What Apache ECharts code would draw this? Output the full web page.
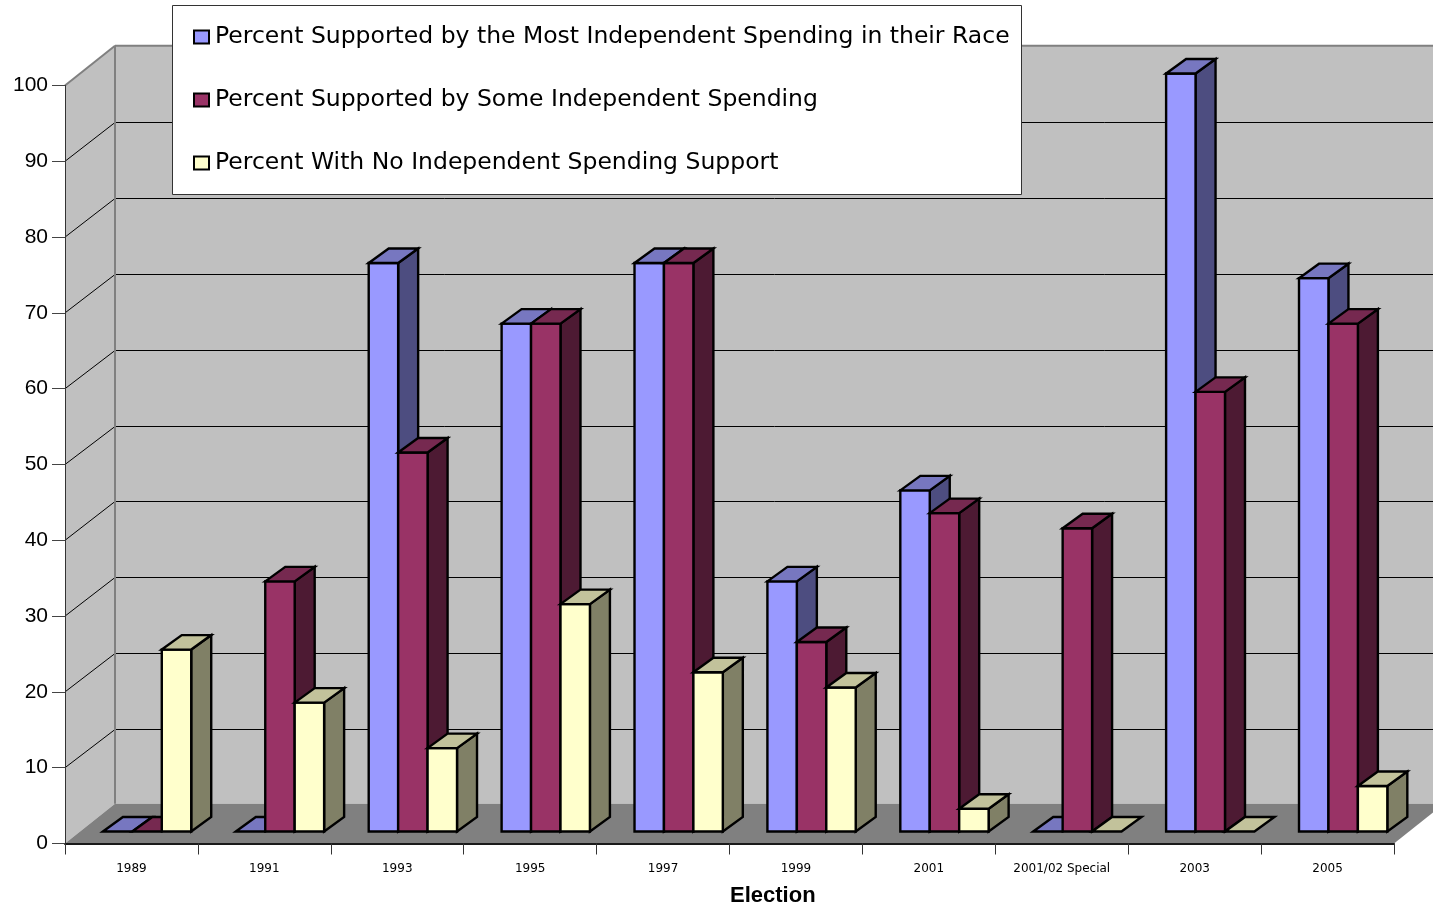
<!DOCTYPE html>
<html><head><meta charset="utf-8">
<style>html,body{margin:0;padding:0;background:#fff}#c{width:1433px;height:906px}</style>
<script src="https://cdn.jsdelivr.net/npm/echarts@6/dist/echarts.min.js"></script>
</head><body><div id="c"></div>
<script>
const categories = ['1989','1991','1993','1995','1997','1999','2001','2001/02 Special','2003','2005'];
const mostSpending = [0,0,75,67,75,33,45,0,100,73];
const someSpending = [0,33,50,67,75,25,42,40,58,67];
const noSpending = [24,17,11,30,21,19,3,0,0,6];
const yTicks = [0,10,20,30,40,50,60,70,80,90,100];
const seriesNames = ['Percent Supported by the Most Independent Spending in their Race','Percent Supported by Some Independent Spending','Percent With No Independent Spending Support'];
const palette = [
  {front:'#9999FF',side:'#4D4D80',top:'#7777C0'},
  {front:'#993366',side:'#4D1A33',top:'#762950'},
  {front:'#FFFFCC',side:'#808066',top:'#C2C29B'}
];
const WALL_DX = 50, WALL_DY = -39.8, GRID_DY = -38.5, BAR_DX = 20, BAR_DY = -14.5, BASE_DY = -12;
const FONT = '"Liberation Sans", Arial, sans-serif';
const WIDE_FONT = '"DejaVu Sans", sans-serif';

function poly(points, fill, stroke, lw){
  return {type:'polygon',shape:{points},style:{fill,stroke:stroke||'none',lineWidth:lw||0,lineJoin:'miter'}};
}
function line(a,b,stroke,lw){
  return {type:'line',shape:{x1:a[0],y1:a[1],x2:b[0],y2:b[1]},style:{stroke,lineWidth:lw}};
}
function renderWalls(params, api){
  const lastIdx = categories.length-1;
  const band = api.size([1,0])[0];
  const l = api.coord([0,0])[0]-band/2;
  const r = api.coord([lastIdx,0])[0]+band/2;
  const y0 = api.coord([0,0])[1];
  const yT = api.coord([0,100])[1];
  const ch = [
    poly([[l,yT],[l+WALL_DX,yT+WALL_DY],[l+WALL_DX,y0+WALL_DY],[l,y0]],'#C0C0C0'),
    poly([[l+WALL_DX,yT+WALL_DY],[r+WALL_DX,yT+WALL_DY],[r+WALL_DX,y0+WALL_DY],[l+WALL_DX,y0+WALL_DY]],'#C0C0C0'),
    poly([[l,y0],[l+WALL_DX,y0+WALL_DY],[r+WALL_DX,y0+WALL_DY],[r,y0]],'#808080')
  ];
  yTicks.forEach(function(t){
    const y = api.coord([0,t])[1];
    if(t>0 && t<100){
      const gy = Math.floor(y+GRID_DY)+0.5;
      ch.push(line([l,y],[l+WALL_DX,gy],'#000',1));
      ch.push(line([l+WALL_DX,gy],[r+WALL_DX,gy],'#000',1));
    }
  });
  ch.push(line([l,yT],[l+WALL_DX,yT+WALL_DY],'#808080',2));
  ch.push(line([l+WALL_DX,yT+WALL_DY],[r+WALL_DX,yT+WALL_DY],'#808080',2));
  ch.push(line([l+WALL_DX,yT+WALL_DY],[l+WALL_DX,y0+WALL_DY],'#808080',2));
  return {type:'group',children:ch};
}
function barRenderer(slot, pal){
  return function(params, api){
    const idx = api.value(0), val = api.value(1);
    const band = api.size([1,0])[0];
    const w = band*0.2215;
    const cx = api.coord([idx,0])[0] + band*0.1175;
    const x0 = cx - 1.5*w + slot*w, x1 = x0 + w;
    const yb = api.coord([idx,0])[1] + BASE_DY;
    const yt = api.coord([idx,val])[1] + BASE_DY;
    const s = '#000', lw = 2.4;
    const ch = [];
    if(val>0){
      ch.push(poly([[x1,yb],[x1+BAR_DX,yb+BAR_DY],[x1+BAR_DX,yt+BAR_DY],[x1,yt]],pal.side,s,lw));
      ch.push(poly([[x0,yt],[x1,yt],[x1,yb],[x0,yb]],pal.front,s,lw));
    }
    ch.push(poly([[x0,yt],[x0+BAR_DX,yt+BAR_DY],[x1+BAR_DX,yt+BAR_DY],[x1,yt]],pal.top,s,lw));
    return {type:'group',children:ch};
  };
}
function barSeries(i, values){
  return {
    type:'custom', name:seriesNames[i], z:4+i, clip:false,
    encode:{x:0,y:1}, itemStyle:{color:palette[i].front},
    data:values.map(function(v,k){return [k,v];}),
    renderItem:barRenderer(i,palette[i]),
    silent:true
  };
}
const chart = echarts.init(document.getElementById('c'),null,{renderer:'canvas'});
chart.setOption({
  animation:false,
  backgroundColor:'#fff',
  textStyle:{fontFamily:FONT},
  grid:{left:65,right:39,top:85.5,bottom:62.5,containLabel:false},
  title:{text:'Election',left:730,top:885,itemGap:0,padding:0,
    textStyle:{fontFamily:FONT,fontSize:22,fontWeight:'bold',color:'#000'}},
  xAxis:{type:'category',data:categories,boundaryGap:true,z:3,
    axisLine:{lineStyle:{color:'#1a1a1a',width:2}},
    axisTick:{show:true,alignWithLabel:false,length:11,lineStyle:{color:'#333',width:1}},
    axisLabel:{interval:0,margin:19,fontSize:12,color:'#000',fontFamily:WIDE_FONT},
    splitLine:{show:false}},
  yAxis:{type:'value',min:0,max:100,interval:10,z:3,
    axisLine:{show:true,lineStyle:{color:'#333',width:1}},
    axisTick:{show:true,length:13,lineStyle:{color:'#444',width:1}},
    axisLabel:{margin:17,fontSize:21,color:'#000',fontFamily:FONT},
    splitLine:{show:false}},
  graphic:[{type:'rect',z:20,shape:{x:172.5,y:5.5,width:849,height:189},style:{fill:'#fff',stroke:'#333',lineWidth:1}}],
  legend:{
    show:true,orient:'vertical',left:193,top:25,padding:0,z:30,
    itemWidth:15,itemHeight:13,itemGap:39,selectedMode:false,
    textStyle:{fontFamily:WIDE_FONT,fontSize:23.5,color:'#000',padding:[0,0,0,1]},
    data:seriesNames.map(function(n,i){return {name:n,icon:'rect',itemStyle:{color:palette[i].front,borderColor:'#000',borderWidth:2}};})
  },
  series:[
    {type:'custom',name:'walls',z:1,clip:false,silent:true,encode:{x:0,y:1},data:[[0,0]],renderItem:renderWalls},
    barSeries(0,mostSpending),
    barSeries(1,someSpending),
    barSeries(2,noSpending)
  ]
});
</script></body></html>
